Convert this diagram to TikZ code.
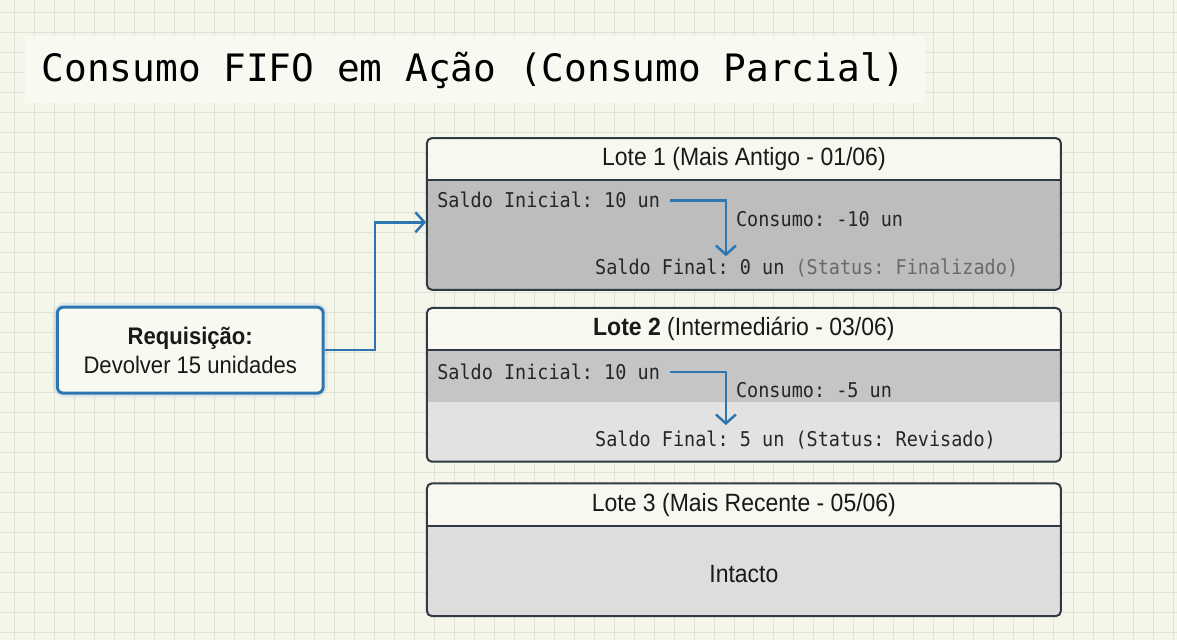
\documentclass[tikz,border=0pt]{standalone}
\usepackage{fontspec}
\setmainfont{Liberation Sans}
\setmonofont{DejaVu Sans Mono}
\usetikzlibrary{positioning, arrows.meta, calc}
\definecolor{paper}{RGB}{244,246,234}
\definecolor{gridc}{RGB}{224,226,213}
\definecolor{bandc}{RGB}{248,249,240}
\definecolor{hdrc}{RGB}{248,248,240}
\definecolor{edge}{RGB}{47,58,69}
\definecolor{flowb}{RGB}{46,118,176}
\definecolor{doneg}{RGB}{189,189,189}
\definecolor{usedg}{RGB}{197,197,197}
\definecolor{leftg}{RGB}{226,226,226}
\definecolor{restg}{RGB}{221,221,221}
\definecolor{statg}{RGB}{105,105,105}
\newcommand{\narrow}[1]{\scalebox{0.92}[1]{#1}}
\newcommand{\tallmono}[1]{\scalebox{1}[1.1]{#1}}

\begin{document}
\begin{tikzpicture}[x=1pt, y=-1pt,
        hdr/.style={rectangle, inner sep=0pt, minimum width=634, minimum height=42,
          font=\fontsize{25}{28}\selectfont, text=black!90},
        body/.style={rectangle, inner sep=0pt, minimum width=634},
        mono/.style={anchor=west, inner sep=0pt, font=\ttfamily\fontsize{18.5}{22}\selectfont, text=black!85},
        frame/.style={draw=edge, line width=2, rounded corners=5},
        flow/.style={draw=flowb, line width=2.5, -{Straight Barb[length=9,width=20]}},
        req/.style={rectangle, rounded corners=6, draw=flowb, line width=3, fill=bandc,
          minimum width=266, minimum height=86, align=center,
          font=\fontsize{24}{29}\selectfont, text=black!90}]
      % paper and grid
      \fill[paper] (0,0) rectangle (1177,640);
      \foreach \gx in {14,34,...,1174} \draw[gridc, line width=0.8] (\gx,0) -- (\gx,640);
      \foreach \gy in {12,32,...,632} \draw[gridc, line width=0.8] (0,\gy) -- (1177,\gy);
      \useasboundingbox (0,0) rectangle (1177,640);

      % title
      \fill[bandc] (25,36) rectangle (925,103);
      \node[anchor=west, inner sep=0pt, font=\ttfamily\fontsize{37.8}{40}\selectfont] (title) at (41,70)
        {Consumo FIFO em Ação (Consumo Parcial)};

      % lotes
      \path (744,159) node[hdr] (hdr1) {}
        node[body, minimum height=109, below=0pt of hdr1] (body1) {};
      \path (744,329) node[hdr] (hdr2) {}
        node[body, minimum height=111, below=0pt of hdr2] (body2) {};
      \path (744,504.5) node[hdr] (hdr3) {}
        node[body, minimum height=90, below=0pt of hdr3] (body3) {};

      \fill[doneg, rounded corners=5] (hdr1.south west) |- (body1.south east) -- (hdr1.south east);
      \fill[leftg, rounded corners=5] (hdr2.south west) |- (body2.south east) -- (hdr2.south east);
      \fill[usedg] (body2.north west) rectangle ($(body2.north east)+(0,52)$);
      \fill[restg, rounded corners=5] (hdr3.south west) |- (body3.south east) -- (hdr3.south east);
      \foreach \i in {1,2,3} {
        \fill[hdrc, rounded corners=5] (hdr\i.south west) |- (hdr\i.north east) -- (hdr\i.south east);
        \draw[frame] (hdr\i.north west) rectangle (body\i.south east);
        \draw[draw=edge, line width=2] (hdr\i.south west) -- (hdr\i.south east);
      }
      \node[hdr] (lbl1) at (hdr1) {\narrow{Lote 1 (Mais Antigo - 01/06)}};
      \node[hdr] (lbl2) at (hdr2) {\narrow{\textbf{Lote 2} (Intermediário - 03/06)}};
      \node[hdr] (lbl3) at (hdr3) {\narrow{Lote 3 (Mais Recente - 05/06)}};

      % lote 1
      \node[mono] (ini1) at (437,200) {\tallmono{Saldo Inicial: 10 un}};
      \node[mono] (cons1) at (736,219) {\tallmono{Consumo: -10 un}};
      \node[mono] (fin1) at (595,268) {\tallmono{Saldo Final: 0 un \textcolor{statg}{(Status: Finalizado)}}};
      \coordinate (drop1) at (726,256);
      \draw[flow] ([xshift=10]ini1.east) -| (drop1);

      % lote 2
      \node[mono] (ini2) at (437,372) {\tallmono{Saldo Inicial: 10 un}};
      \node[mono] (cons2) at (736,390) {\tallmono{Consumo: -5 un}};
      \node[mono] (fin2) at (595,440) {\tallmono{Saldo Final: 5 un (Status: Revisado)}};
      \coordinate (drop2) at (726,425);
      \draw[flow] ([xshift=10]ini2.east) -| (drop2);

      % lote 3
      \node[font=\fontsize{25}{28}\selectfont, text=black!90] (rest3) at (744,574) {\narrow{Intacto}};

      % requisicao
      \draw[flowb!35, line width=9, rounded corners=8, opacity=0.35] (57,307) rectangle (323,393);
      \node[req] (req) at (190,350) {\narrow{\textbf{Requisição:}}\\\narrow{Devolver 15 unidades}};
      \coordinate (turnA) at (375,222);
      \coordinate (in1) at (426,222);
      \draw[flow] (req.east) -| (turnA) -- (in1);
    \end{tikzpicture}
\end{document}
